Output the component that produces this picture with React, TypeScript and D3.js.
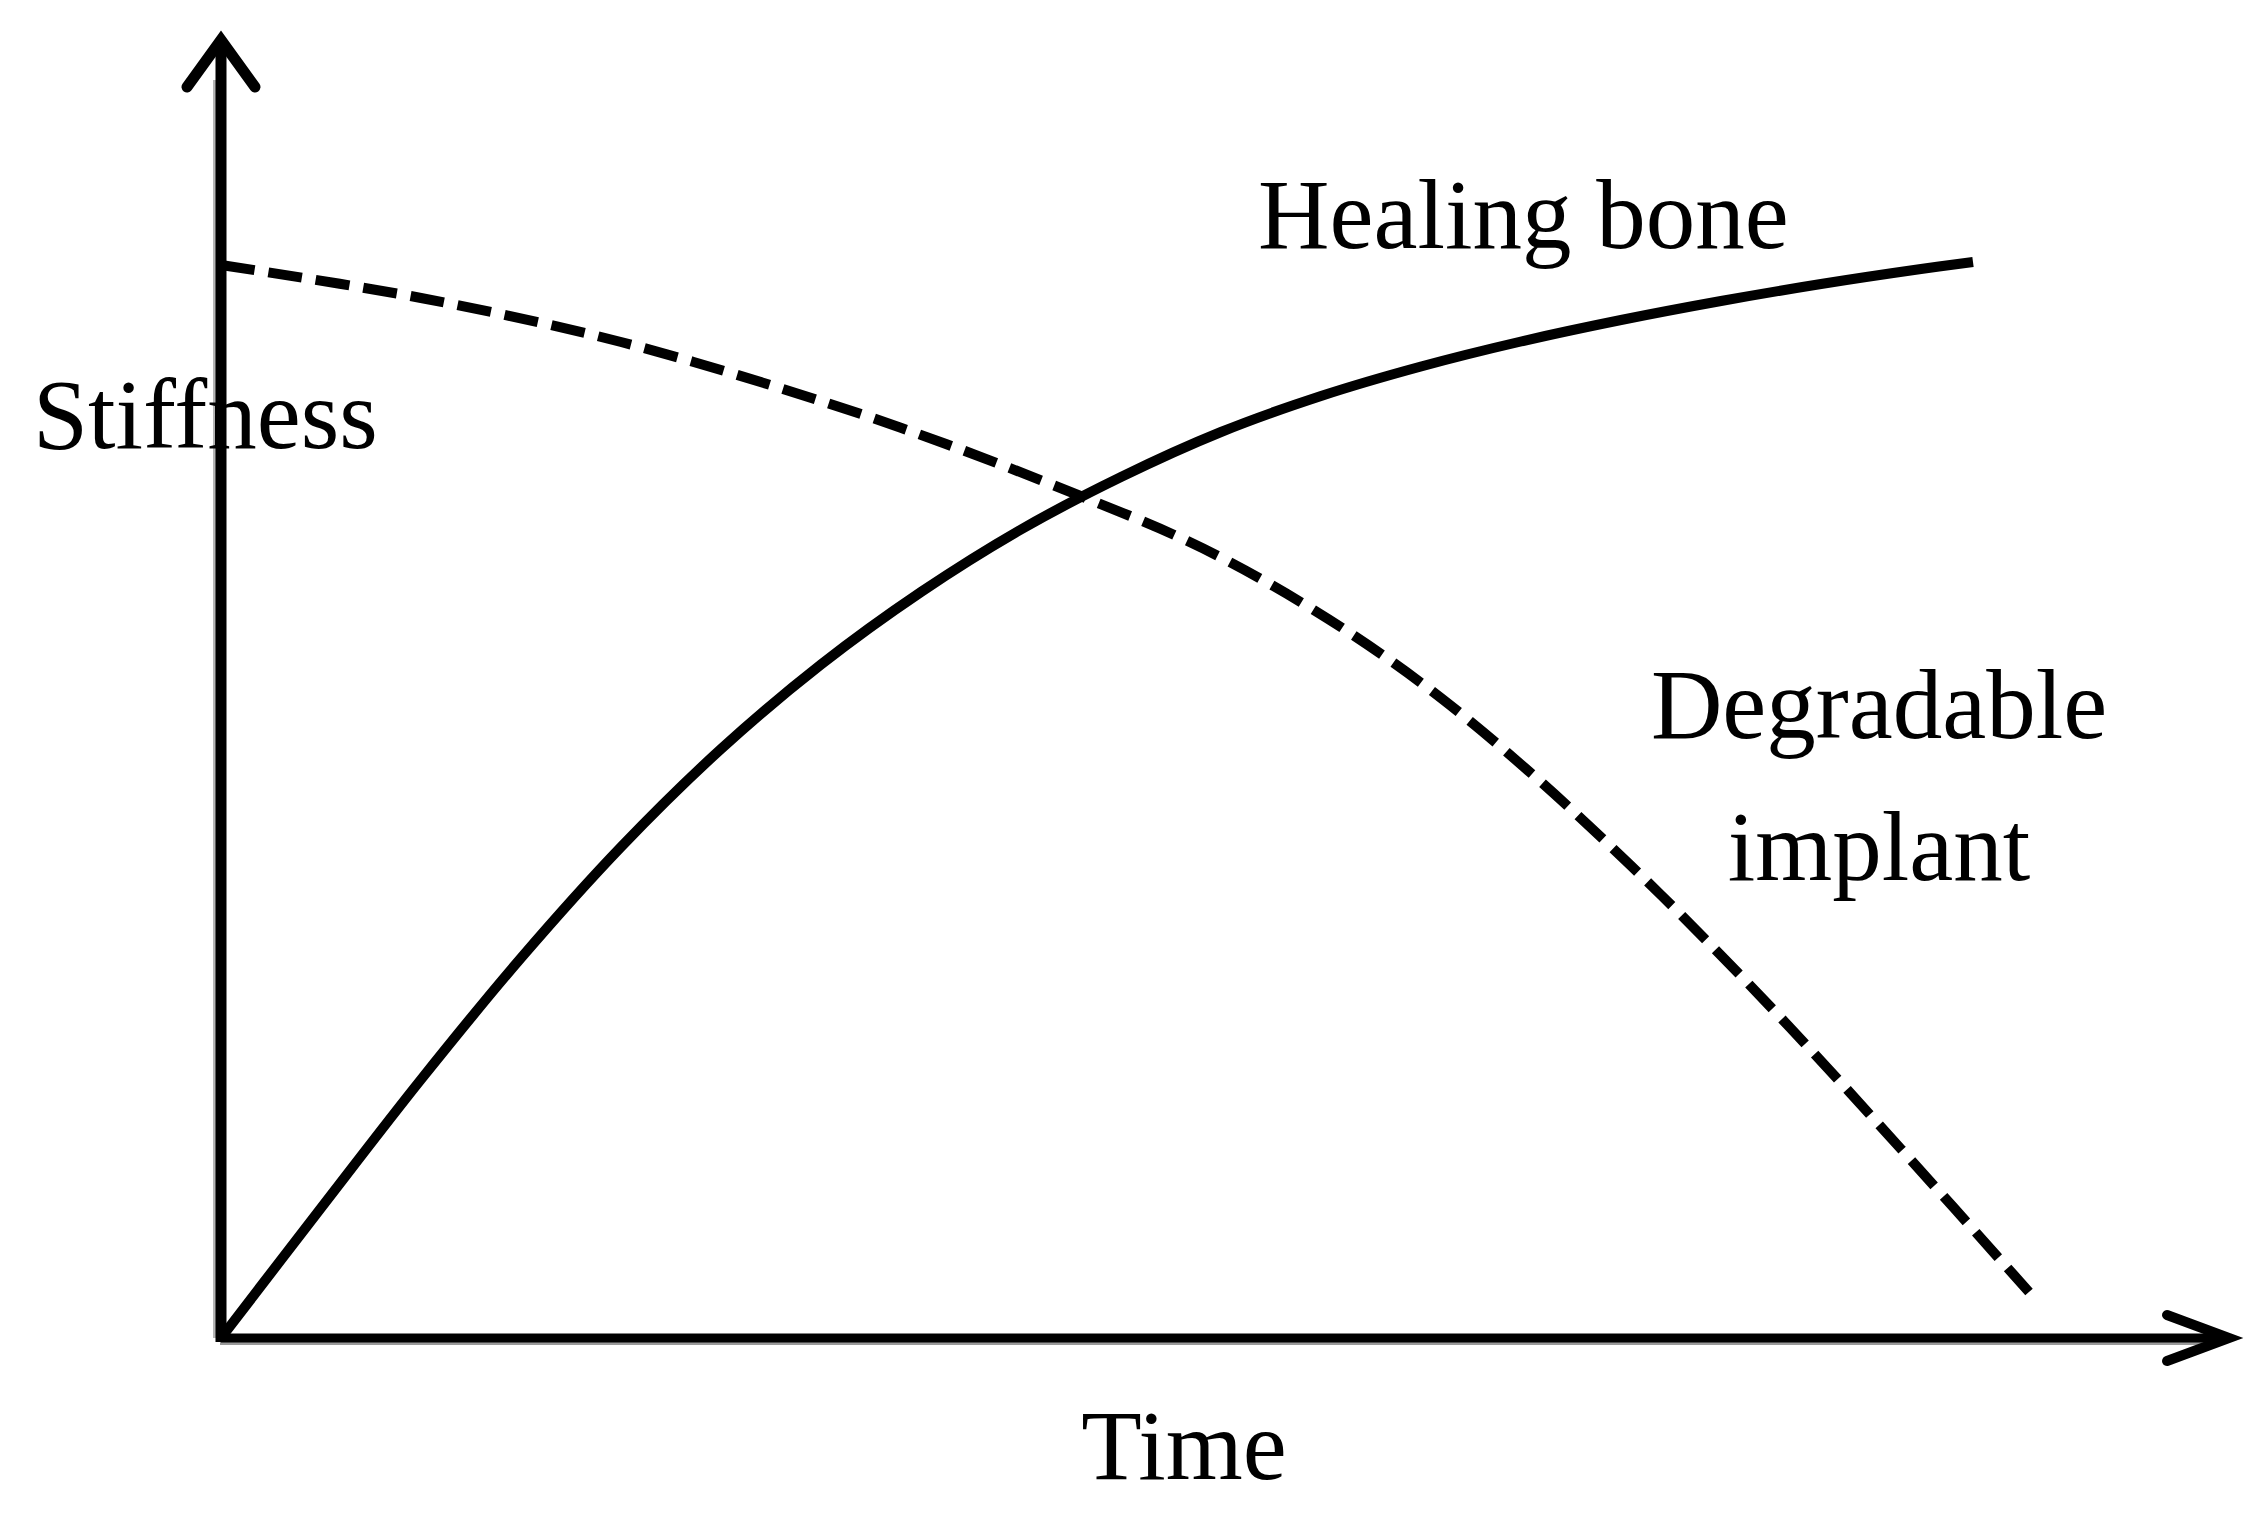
import { useEffect, useRef } from 'react';
import * as d3 from 'd3';

// time and stiffness are in arbitrary units
const boneTime = [0, 5, 10, 15, 20, 25, 30, 35, 40, 45, 50, 55, 60, 65, 70, 75, 80, 85, 87.6];
const boneStiffness = [0, 13.0, 25.85, 38.0, 49.1, 58.9, 67.35, 74.6, 80.85, 86.1, 90.6, 94.2, 97.15, 99.65, 101.8, 103.7, 105.4, 106.9, 107.6];

const implantTime = [0, 10, 20, 30, 36.25, 42.85, 48, 52, 56.6, 61, 66, 72, 78, 84, 90.4];
const implantStiffness = [107.3, 104.0, 99.6, 93.7, 89.4, 84.3, 80.0, 75.9, 70.3, 64.0, 55.6, 44.3, 32.0, 18.9, 4.6];

const xLabel = 'Time';
const yLabel = 'Stiffness';
const boneLabel = 'Healing bone';
const implantLabel = ['Degradable', 'implant'];

const WIDTH = 2262, HEIGHT = 1520;
const FONT = '"Liberation Serif", "Times New Roman", serif';

function to_points(times: number[], values: number[]) {
    return times.map((t, i) => [t, values[i]] as [number, number]);
}

const renderChart = (node: SVGSVGElement) => {
    const svg = d3.select(node);
    svg.selectAll('*').remove();

    const x = d3.scaleLinear().domain([0, 100]).range([221, 2221]);
    const y = d3.scaleLinear().domain([0, 100]).range([1338, 338]);

    const x0 = x(0), y0 = y(0);
    const xEnd = x(100) + 8;
    const yEnd = y(129.8);

    // axes (with the faint grey shadow of the original)
    svg.append('line')
        .attr('x1', x0 - 1).attr('x2', xEnd - 20)
        .attr('y1', y0 + 3).attr('y2', y0 + 3)
        .attr('stroke', '#9a9a9a').attr('stroke-width', 8);
    svg.append('line')
        .attr('x1', x0 - 3).attr('x2', x0 - 3)
        .attr('y1', yEnd + 40).attr('y2', y0)
        .attr('stroke', '#b5b5b5').attr('stroke-width', 10);

    svg.append('line')
        .attr('x1', x0).attr('x2', xEnd)
        .attr('y1', y0).attr('y2', y0)
        .attr('stroke', 'black').attr('stroke-width', 9);
    svg.append('line')
        .attr('x1', x0).attr('x2', x0)
        .attr('y1', yEnd + 4).attr('y2', y0 + 4)
        .attr('stroke', 'black').attr('stroke-width', 11);

    // arrow heads
    svg.append('path')
        .attr('d', `M${x0 - 34},${yEnd + 47} L${x0},${yEnd} L${x0 + 34},${yEnd + 47}`)
        .attr('fill', 'none').attr('stroke', 'black')
        .attr('stroke-width', 11).attr('stroke-linejoin', 'miter').attr('stroke-linecap', 'round');
    svg.append('path')
        .attr('d', `M${xEnd - 62},${y0 - 23} L${xEnd},${y0} L${xEnd - 62},${y0 + 23}`)
        .attr('fill', 'none').attr('stroke', 'black')
        .attr('stroke-width', 10).attr('stroke-linejoin', 'miter').attr('stroke-linecap', 'round');

    const line = d3.line<[number, number]>()
        .x(d => x(d[0]))
        .y(d => y(d[1]))
        .curve(d3.curveCatmullRom.alpha(0.5));

    svg.append('path')
        .attr('d', line(to_points(implantTime, implantStiffness)))
        .attr('fill', 'none')
        .attr('stroke', 'black')
        .attr('stroke-width', 10)
        .attr('stroke-dasharray', '34 14');

    svg.append('path')
        .attr('d', line(to_points(boneTime, boneStiffness)))
        .attr('fill', 'none')
        .attr('stroke', 'black')
        .attr('stroke-width', 10);

    const text = (str: string, tx: number, ty: number, anchor = 'start') =>
        svg.append('text')
            .attr('x', tx).attr('y', ty)
            .attr('text-anchor', anchor)
            .style('font-family', FONT)
            .style('font-size', '99px')
            .attr('fill', 'black')
            .text(str);

    text(yLabel, 33, 448);
    text(xLabel, 1184, 1479, 'middle');
    text(boneLabel, 1258, 248);
    text(implantLabel[0], 1879, 738, 'middle');
    text(implantLabel[1], 1879, 880, 'middle');
};

const App = () => {
    const ref = useRef<SVGSVGElement>(null);

    useEffect(() => {
        if (ref.current) renderChart(ref.current);
    }, []);

    return (
        <svg ref={ref} width={WIDTH} height={HEIGHT}
            style={{ position: 'absolute', left: 0, top: 0, background: 'white' }} />
    );
};

export default App;
